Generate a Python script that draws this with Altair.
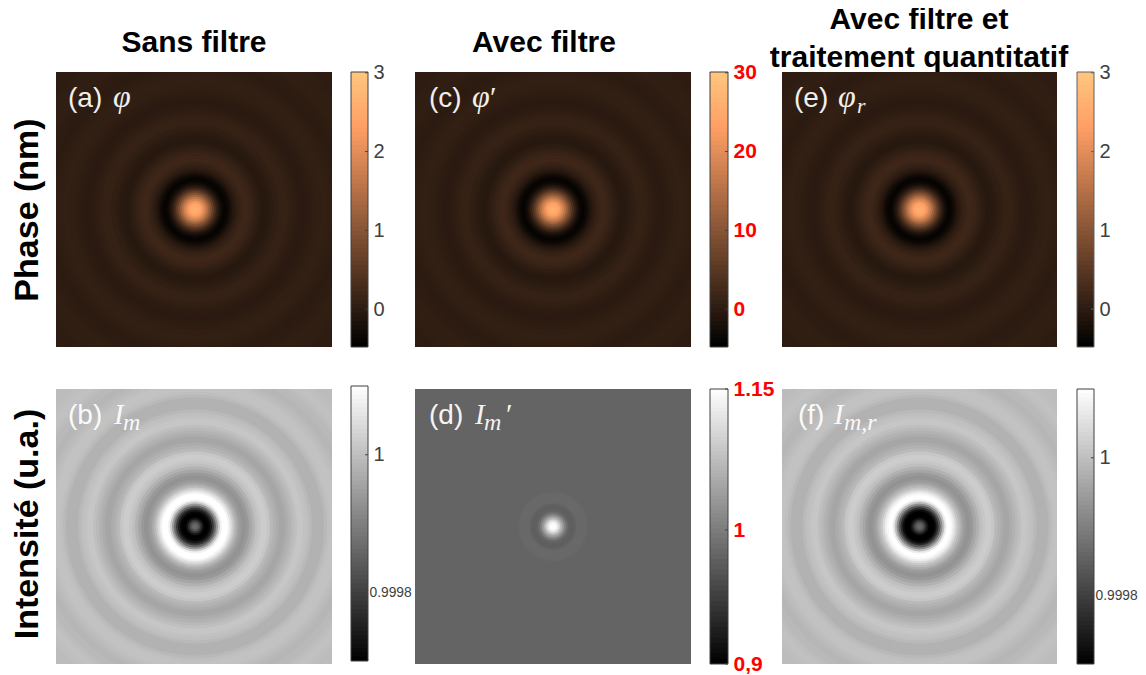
import altair as alt
import pandas as pd

SANS = "Liberation Sans"
SERIF = "Liberation Serif"

# radial profiles (radius in image pixels, value)
phase_r = [0,2,4,6,8,10,12,14,16,18,20,22,24,26,28,30,32,34,36,38,40,42,44,46,48,50,
           53,56,59,62,65,68,71,74,77,80,83,86,89,92,95,98,101,104,107,110,113,116,119,
           122,125,128,131,134,137,140,143,146,149,152,155,158,161,164,167,170,173,176,
           179,182,185,188,191,194,197]
phase_a = [2.60,2.57,2.48,2.33,2.12,1.85,1.55,1.22,.90,.60,.32,.08,-.12,-.27,-.37,-.41,-.38,-.30,-.20,-.10,-.02,.05,.10,.14,.18,.20,
           .19,.15,.10,.04,-.01,-.05,-.05,-.03,0,.04,.07,.10,.11,.10,.08,.05,.02,0,-.02,-.02,-.01,.01,.03,
           .06,.07,.08,.08,.07,.05,.03,.01,0,0,.01,.02,.03,.05,.06,.06,.06,.05,.04,
           .03,.02,.02,.02,.02,.03,.03]
phase_c = [26.0,25.7,24.8,23.3,21.2,18.5,15.5,12.2,9.0,6.0,3.2,.8,-1.2,-2.7,-3.7,-4.1,-3.8,-3.0,-2.0,-1.0,-.2,.5,1.0,1.4,1.8,2.0,
           1.9,1.5,1.0,.4,-.1,-.5,-.5,-.3,0,.4,.7,1.0,1.1,1.0,.8,.5,.2,0,-.2,-.2,-.1,.1,.3,
           .6,.7,.8,.8,.7,.5,.3,.1,0,0,.1,.2,.3,.5,.6,.6,.6,.5,.4,
           .3,.2,.2,.2,.2,.3,.3]

inten_r = [0,2,4,6,8,10,12,14,16,18,20,22,24,26,28,30,32,34,36,38,40,42,44,46,48,
           50,53,56,59,62,65,68,71,74,77,80,83,86,89,92,95,98,101,104,107,110,113,116,119,122,
           125,128,131,134,137,140,143,146,149,152,155,158,161,164,167,170,173,176,179,182,185,188,191,194,197]
inten_b = [.99987,.99986,.99983,.99978,.99973,.99970,.99970,.99971,.99974,.99979,.99986,.99994,1.00002,1.00008,1.00010,1.00010,1.00010,1.00008,1.00005,1.00002,.99999,.99997,.99995,.99994,.99993,
           .99993,.99994,.99996,.99998,1.00000,1.00001,1.00002,1.00002,1.00001,.99999,.99998,.99997,.99996,.99996,.99997,.99998,.99999,1.00000,1.00001,1.00001,1.000005,1.00000,.99999,.99998,.99998,
           .99998,.99998,.99999,1.00000,1.000005,1.000005,1.000005,1.00000,.999995,.99999,.999985,.999985,.99999,.99999,.999995,1.00000,1.000003,1.000003,1.00000,.999998,.999995,.999995,.999995,.999995,.999998]
inten_f = [.99987,.99986,.99983,.99978,.99973,.99970,.99970,.99970,.99972,.99977,.99984,.99992,1.00000,1.00007,1.00010,1.00010,1.00009,1.00007,1.00004,1.00001,.99999,.99997,.99995,.99994,.99993,
           .99993,.99994,.99996,.99998,1.00000,1.00001,1.00002,1.00002,1.00001,.99999,.99998,.99997,.99996,.99996,.99997,.99998,.99999,1.00000,1.00001,1.00001,1.000005,1.00000,.99999,.99998,.99998,
           .99998,.99998,.99999,1.00000,1.000005,1.000005,1.000005,1.00000,.999995,.99999,.999985,.999985,.99999,.99999,.999995,1.00000,1.000003,1.000003,1.00000,.999998,.999995,.999995,.999995,.999995,.999998]
filt_r = [0,2,4,6,8,10,12,14,16,18,20,22,24,26,28,30,32,34,200]
filt_d = [1.15,1.148,1.135,1.105,1.07,1.035,1.005,.988,.979,.977,.977,.978,.984,.985,.985,.985,.985,.983,.981]

col_titles = ["Sans filtre", "Avec filtre", "Avec filtre et", "traitement quantitatif"]
row_titles = ["Phase (nm)", "Intensité (u.a.)"]
phase_ticks = [0, 1, 2, 3]
phase_c_ticks = [0, 10, 20, 30]
inten_ticks = [0.9998, 1]
filt_ticks = [0.9, 1, 1.15]

COPPER = ["#000000", "#FF9F65", "#FFC77F"]
GRAY = ["#000000", "#FFFFFF"]
GRAY3 = ["#000000", "#7C7C7C", "#FFFFFF"]


def cscale(lo, hi, rng, mid=None):
    if mid is not None:
        return alt.Scale(domain=[lo, mid, hi], range=rng, clamp=True, interpolate="rgb")
    if len(rng) == 3:
        return alt.Scale(domain=[lo, lo + .8 * (hi - lo), hi], range=rng, clamp=True, interpolate="rgb")
    return alt.Scale(domain=[lo, hi], range=rng, clamp=True, interpolate="rgb")


def blank(w, h):
    return alt.Chart(pd.DataFrame({"t": [""]})).mark_text().encode(text="t:N").properties(width=w, height=h)


def title_cell(lines, ys, xc, w, h):
    layers = [
        alt.Chart(pd.DataFrame({"t": [t]})).mark_text(font=SANS, fontWeight="bold", fontSize=30, color="#000000",
                                                       align="center", baseline="middle")
        .encode(text="t:N", x=alt.value(xc), y=alt.value(y))
        for t, y in zip(lines, ys)
    ]
    return alt.layer(*layers).properties(width=w, height=h)


def row_label(t, yc, w, h):
    return alt.Chart(pd.DataFrame({"t": [t]})).mark_text(font=SANS, fontWeight="bold", fontSize=34, color="#000000",
                                                         align="center", baseline="middle", angle=270).encode(
        text="t:N", x=alt.value(20), y=alt.value(yc)).properties(width=w, height=h)


def ann(t, x, y, size, font, italic=False, opacity=0.93):
    return alt.Chart(pd.DataFrame({"t": [t]})).mark_text(
        font=font, fontSize=size, fontStyle="italic" if italic else "normal", color="#FFFFFF", opacity=opacity,
        align="left", baseline="alphabetic").encode(text="t:N", x=alt.value(x), y=alt.value(y))


def panel(r, v, scale, w, h, labels, cx=0):
    df = pd.DataFrame({"r": r, "v": v, "cx": cx, "cy": 0})
    disc = alt.Chart(df).transform_calculate(outer="datum.r+1").mark_point(
        filled=True, opacity=1, clip=True, shape="circle", strokeWidth=0).encode(
        x=alt.X("cx:Q", scale=alt.Scale(domain=[-w / 2, w / 2], nice=False, zero=False), axis=None),
        y=alt.Y("cy:Q", scale=alt.Scale(domain=[-h / 2, h / 2], nice=False, zero=False), axis=None),
        size=alt.Size("outer:Q", scale=alt.Scale(type="pow", exponent=2, domain=[0, 200], range=[0, 160000]), legend=None),
        color=alt.Color("v:Q", scale=scale, legend=None),
        order=alt.Order("r:Q", sort="descending"),
    )
    return alt.layer(disc, *labels).properties(width=w, height=h)


def colorbar(lo, hi, rng, ticks, w, bar_l, bar_r, h, shift, color="#404040", size=20, bold=False, small=False,
             label_expr=None, border="#404040", mid=None, mid_pos=None):
    step = (hi - lo) / 64
    span = hi - lo
    if mid is not None:
        ys = alt.Scale(domain=[lo, mid, hi], range=[h, mid_pos, 0], nice=False, zero=False)
    else:
        ys = alt.Scale(domain=[lo - shift / h * span, hi - shift / h * span], nice=False, zero=False)
    axis_kw = dict(orient="right", offset=-(w - bar_r), domain=False, ticks=False, grid=False, title=None,
                   values=ticks, labelColor=color, labelFont=SANS, labelFontWeight="bold" if bold else "normal",
                   labelFlush=False, labelOverlap=False, labelBound=False)
    if small:
        axis_kw["labelFontSize"] = {"condition": {"test": "datum.value<0.99985", "value": 13.8}, "value": size}
        axis_kw["labelPadding"] = {"condition": {"test": "datum.value<0.99985", "value": 1}, "value": 5}
        axis_kw["format"] = ".4~f"
    else:
        axis_kw["labelFontSize"] = size
        axis_kw["labelPadding"] = 5
        axis_kw["format"] = ".3~f"
    if label_expr:
        axis_kw["labelExpr"] = label_expr
    ax = alt.Axis(**axis_kw)
    bars = alt.Chart(alt.sequence(start=lo, stop=hi, step=step, as_="s")).transform_filter(
        f"datum.s < {hi - step / 2}").transform_calculate(
        s2=f"min(datum.s+{step * 1.4},{hi})", mid=f"datum.s+{step / 2}").mark_rect(strokeWidth=0).encode(
        x=alt.value(bar_l), x2=alt.value(bar_r),
        y=alt.Y("s:Q", scale=ys, axis=ax), y2="s2:Q",
        color=alt.Color("mid:Q", scale=cscale(lo, hi, rng, mid), legend=None),
    )
    frame = alt.Chart(pd.DataFrame({"a": [lo], "b": [hi]})).mark_rect(
        fillOpacity=0, stroke=border, strokeWidth=1).encode(
        x=alt.value(bar_l), x2=alt.value(bar_r), y=alt.Y("a:Q", scale=ys, axis=ax), y2="b:Q")
    marks = alt.Chart(pd.DataFrame({"k": ticks})).mark_rule(color=border, strokeWidth=1).encode(
        x=alt.value(bar_r - 3), x2=alt.value(bar_r), y=alt.Y("k:Q", scale=ys, axis=ax))
    return alt.layer(bars, frame, marks).properties(width=w, height=h)


H = 275
W_lab, W_a, W_ca, W_c, W_cc, W_e, W_ce = 48, 276, 83, 276, 91, 275, 80
P_LO, P_HI = -0.48, 3.01
PC_LO, PC_HI = -4.8, 30.1
I_LO, I_HI = 0.9997, 1.0001
F_LO, F_MID, F_HI = 0.9, 1.0, 1.15

sa = cscale(P_LO, P_HI, COPPER)
sc = cscale(PC_LO, PC_HI, COPPER)
si = cscale(I_LO, I_HI, GRAY)
sf = cscale(F_LO, F_HI, GRAY3, F_MID)

a = panel(phase_r, phase_a, sa, W_a, H, [ann("(a)", 12, 35, 28, SANS), ann("φ", 57, 35, 32, SERIF, True)], cx=1)
c = panel(phase_r, phase_c, sc, W_c, H, [ann("(c)", 14, 35, 28, SANS), ann("φ", 57, 35, 32, SERIF, True), ann("′", 75, 35, 30, SERIF)])
e = panel(phase_r, phase_a, sa, W_e, H, [ann("(e)", 12, 35, 28, SANS), ann("φ", 56, 35, 32, SERIF, True), ann("r", 75, 41, 22, SERIF, True)])
b = panel(inten_r, inten_b, si, W_a, H, [ann("(b)", 12, 35, 28, SANS), ann("I", 58, 35, 29, SERIF, True), ann("m", 67, 41, 24, SERIF, True)], cx=1)
d = panel(filt_r, filt_d, sf, W_c, H, [ann("(d)", 14, 35, 28, SANS), ann("I", 60, 35, 29, SERIF, True), ann("m", 69, 41, 24, SERIF, True), ann("′", 91, 35, 30, SERIF)])
f = panel(inten_r, inten_f, si, W_e, H, [ann("(f)", 16, 35, 28, SANS), ann("I", 52, 35, 29, SERIF, True), ann("m,r", 62, 41, 24, SERIF, True)])

cb_a = colorbar(P_LO, P_HI, COPPER, phase_ticks, W_ca, 19, 36, H, 0)
cb_c = colorbar(PC_LO, PC_HI, COPPER, phase_c_ticks, W_cc, 19, 37, H, 0, color="#FF0000", size=21, bold=True)
cb_e = colorbar(P_LO, P_HI, COPPER, phase_ticks, W_ce, 20, 37, H, 0, border="#606060")
cb_b = colorbar(I_LO, I_HI, GRAY, inten_ticks, W_ca, 19, 36, H, 3, small=True)
cb_d = colorbar(F_LO, F_HI, GRAY3, filt_ticks, W_cc, 19, 37, H, 0, color="#FF0000", size=21, bold=True,
                label_expr="datum.value<1 ? '0,9' : datum.label", mid=F_MID, mid_pos=141)
cb_f = colorbar(I_LO, I_HI, GRAY, inten_ticks, W_ce, 20, 37, H, 0, small=True)

R0 = 22
cells = [
    blank(W_lab, R0), title_cell([col_titles[0]], [35], 138, W_a, R0), blank(W_ca, R0),
    title_cell([col_titles[1]], [35], 129, W_c, R0), blank(W_cc, R0),
    title_cell([col_titles[2], col_titles[3]], [12, 50], 137, W_e, R0), blank(W_ce, R0),
    row_label(row_titles[0], 138, W_lab, H), a, cb_a, c, cb_c, e, cb_e,
    row_label(row_titles[1], 135, W_lab, H), b, cb_b, d, cb_d, f, cb_f,
]

chart = alt.concat(*cells, columns=7, spacing=alt.RowColnumber(row=42, column=0), bounds="flush", align="each").resolve_scale(
    color="independent", size="independent").properties(
    padding={"top": -3, "left": 0, "right": 0, "bottom": 0}, background="#FFFFFF").configure_view(stroke=None)

chart.save("out.html", embed_options={"renderer": "svg", "actions": False})
